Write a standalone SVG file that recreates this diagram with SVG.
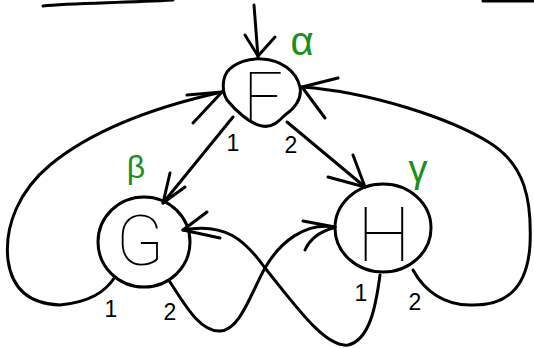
<svg xmlns="http://www.w3.org/2000/svg" width="534" height="348" viewBox="0 0 534 348">
<style>
.s{fill:none;stroke:#000;stroke-width:3;stroke-linecap:round;stroke-linejoin:round}
.letter{font-family:Roboto,"Liberation Sans",sans-serif;font-weight:100;fill:#000;text-anchor:middle}
.num{font-family:"Liberation Sans",sans-serif;font-size:23px;fill:#000;text-anchor:middle}
.greek{font-family:"Liberation Sans","DejaVu Sans",sans-serif;fill:#1a8f1a;text-anchor:middle}
</style>
<rect width="534" height="348" fill="#fff"/>
<g id="strokes-top">
<path class="s" d="M43,6 C70,3 120,3 173,0"/>
<path class="s" d="M483,1 L534,1"/>
</g>
<g id="connectors">
<path class="s" d="M254,5 L258,57"/>
<path class="s" d="M245,35 L258,56 L275,37"/>
<path class="s" d="M233,117 L163,203"/>
<path class="s" d="M170,173 L163,203 L185,187"/>
<path class="s" d="M287,122 L365,187"/>
<path class="s" d="M353,155 L365,187 L328,177"/>
<path class="s" d="M115,277 C105,292 90,302 60,305 C30,304 12,290 8,260 C4,225 20,190 50,165 C90,132 150,108 222,92"/>
<path class="s" d="M187,95 L222,92 L193,123"/>
<path class="s" d="M170,282 C185,305 200,332 220,331 C240,330 250,295 265,268 C280,242 305,222 335,227"/>
<path class="s" d="M303,221 L335,227"/>
<path class="s" d="M305,250 Q312,234 333,228"/>
<path class="s" d="M380,275 C376,305 370,340 348,345 C325,348 295,305 265,268 C245,240 225,222 183,230"/>
<path class="s" d="M207,212 L183,230 L220,238"/>
<path class="s" d="M413,270 C425,292 445,305 470,305 C505,306 527,290 530,245 C532,200 525,165 490,143 C450,118 370,92 302,87"/>
<path class="s" d="M338,78 L302,87 L325,118"/>
</g>
<g id="node-F">
<path class="s" d="M227,72 C235,62 250,58 262,59 C280,60 296,70 300,87 C302,98 295,108 285,115 C278,122 272,128 262,126 C250,124 235,110 227,100 C222,92 222,80 227,72 Z"/>
<text class="letter" x="263" y="122" font-size="70">F</text>
<text class="num" x="233" y="151">1</text>
<text class="num" x="291" y="153">2</text>
<text class="greek" x="302" y="55" font-size="40">α</text>
</g>
<g id="node-G">
<ellipse class="s" cx="144" cy="242" rx="46" ry="45"/>
<text class="letter" x="140" y="265" font-size="70">G</text>
<text class="num" x="111" y="317">1</text>
<text class="num" x="170" y="320">2</text>
<text class="greek" x="136" y="178" font-size="32">β</text>
</g>
<g id="node-H">
<ellipse class="s" cx="383" cy="228" rx="48" ry="44"/>
<text class="letter" x="384" y="261" font-size="76">H</text>
<text class="num" x="361" y="301">1</text>
<text class="num" x="415" y="310">2</text>
<text class="greek" x="418" y="182" font-size="38">γ</text>
</g>
</svg>
